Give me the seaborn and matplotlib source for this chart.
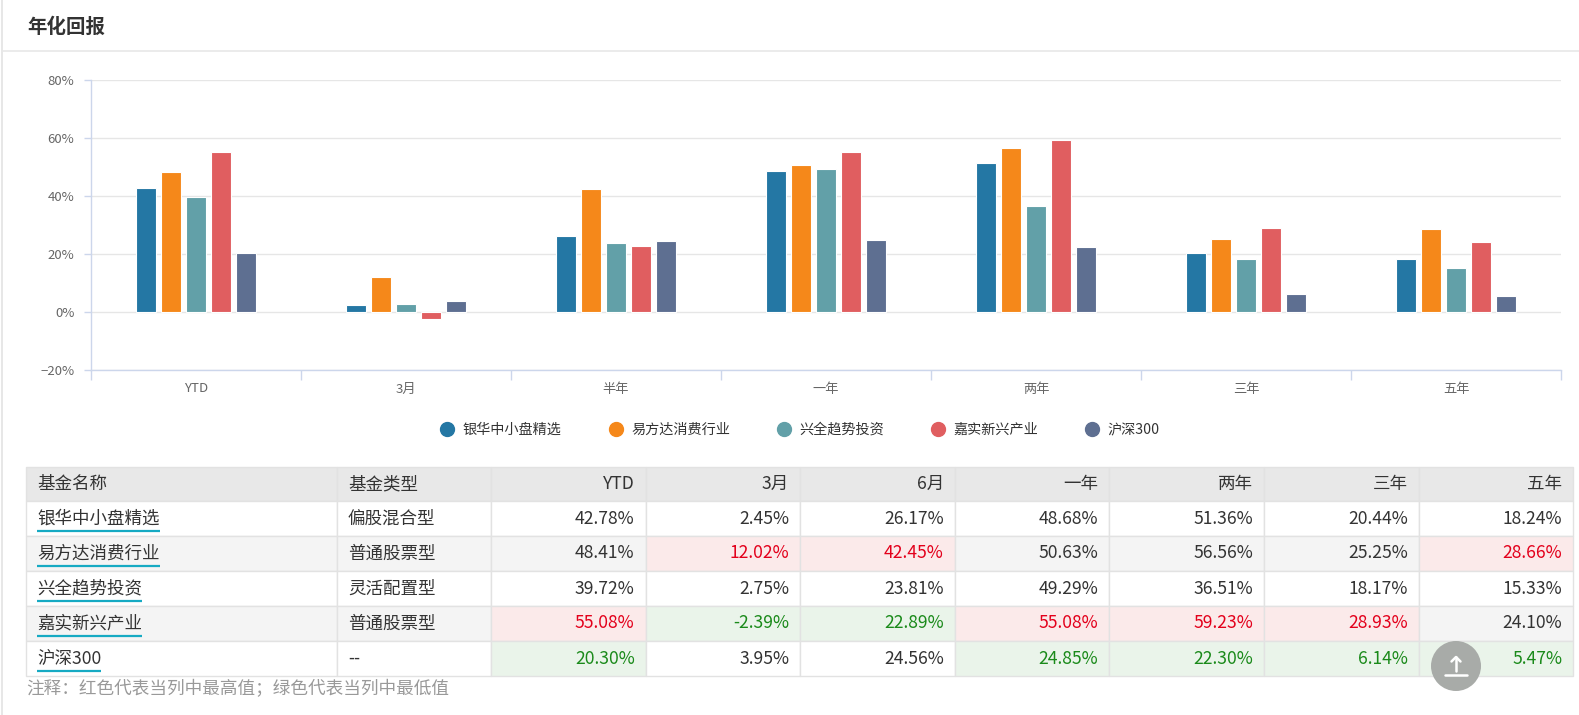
import numpy as np
import pandas as pd
import matplotlib
matplotlib.use('Agg')
import matplotlib.pyplot as plt
import seaborn as sns
from matplotlib.lines import Line2D
from matplotlib.patches import Rectangle, Circle
from matplotlib.ticker import FuncFormatter, FixedLocator

# data (chart and table share the same values)
periods = ['YTD', '3月', '半年', '一年', '两年', '三年', '五年']
table_headers = ['YTD', '3月', '6月', '一年', '两年', '三年', '五年']
funds = ['银华中小盘精选', '易方达消费行业', '兴全趋势投资', '嘉实新兴产业', '沪深300']
fund_types = ['偏股混合型', '普通股票型', '灵活配置型', '普通股票型', '--']

yinhua = [42.78, 2.45, 26.17, 48.68, 51.36, 20.44, 18.24]
efund = [48.41, 12.02, 42.45, 50.63, 56.56, 25.25, 28.66]
xingquan = [39.72, 2.75, 23.81, 49.29, 36.51, 18.17, 15.33]
jiashi = [55.08, -2.39, 22.89, 55.08, 59.23, 28.93, 24.10]
hs300 = [20.30, 3.95, 24.56, 24.85, 22.30, 6.14, 5.47]

colors = ['#2477a4', '#f5881a', '#62a0a8', '#e05e60', '#5e6f91']

series = [yinhua, efund, xingquan, jiashi, hs300]
df = pd.DataFrame([
    {'period': p, 'fund': f, 'value': v}
    for f, vals in zip(funds, series)
    for p, v in zip(periods, vals)
])

sns.set_theme(style='white')
plt.rcParams['font.family'] = ['Noto Sans CJK SC', 'DejaVu Sans']
plt.rcParams['axes.unicode_minus'] = False

W, H = 1579, 715
fig = plt.figure(figsize=(W / 100, H / 100), dpi=100)
fig.patch.set_facecolor('white')

# ---- bar chart
ax = fig.add_axes([91 / W, 1 - 370 / H, (1561 - 91) / W, (370 - 80) / H])
sns.barplot(data=df, x='period', y='value', hue='fund', order=periods, hue_order=funds,
            palette=colors, saturation=1, width=0.6, gap=0.2, edgecolor='white',
            linewidth=0.8, errorbar=None, legend=False, ax=ax)
ax.set_xlim(-0.5, len(periods) - 0.5)
ax.set_ylim(-20, 80)
ax.set_yticks(range(-20, 81, 20))
ax.yaxis.set_major_formatter(FuncFormatter(lambda v, p: f'{v:.0f}%'.replace('-', '\u2212')))
ax.grid(axis='y', color='#e6e6e6', linewidth=1)
ax.set_axisbelow(True)
ax.set_xlabel('')
ax.set_ylabel('')
for s in ['top', 'right']:
    ax.spines[s].set_visible(False)
for s in ['left', 'bottom']:
    ax.spines[s].set_color('#ccd6eb')
    ax.spines[s].set_linewidth(1)
ax.xaxis.set_minor_locator(FixedLocator(np.arange(-0.5, len(periods), 1)))
ax.tick_params(axis='x', which='minor', bottom=True, length=7.5, width=1, color='#ccd6eb')
ax.tick_params(axis='x', which='major', length=0, pad=9, labelsize=9.5, labelcolor='#666666')
ax.tick_params(axis='y', left=True, length=5, width=1, color='#ccd6eb', pad=7,
               labelsize=9.5, labelcolor='#666666')

# legend with round markers
handles = [Line2D([0], [0], marker='o', ls='', markersize=10,
                  markerfacecolor=c, markeredgecolor=c) for c in colors]
fig.legend(handles, funds, loc='center', bbox_to_anchor=(800 / W, 1 - 430 / H), ncol=5,
           frameon=False, fontsize=10.2, handlelength=1, handletextpad=0.6,
           columnspacing=3.3, labelcolor='#333333')

# ---- overlay in pixel coordinates for header, table and note
ov = fig.add_axes([0, 0, 1, 1])
ov.set_xlim(0, W)
ov.set_ylim(H, 0)
ov.axis('off')

ov.plot([1.5, 1.5], [0, H], color='#e3e3e3', lw=1.2)
ov.plot([2, W], [51, 51], color='#e8e8e8', lw=1.2)
ov.text(27, 27, '年化回报', fontsize=14, fontweight='bold', color='#333333',
        ha='left', va='center')

# table layout
left = 26
name_w, type_w, num_w = 311, 154, 154.6
top, head_h, row_h = 467, 34, 35
col_edges = [left, left + name_w, left + name_w + type_w]
for i in range(len(table_headers)):
    col_edges.append(col_edges[-1] + num_w)

grid_c = '#e2e2e2'
txt_c = '#333333'
red_bg, red_txt = '#fbeaea', '#e3001b'
green_bg, green_txt = '#eaf4ea', '#1a8a1a'
pad = 11
fs = 12.6

# header row
for j in range(len(col_edges) - 1):
    ov.add_patch(Rectangle((col_edges[j], top), col_edges[j + 1] - col_edges[j], head_h,
                           facecolor='#e8e8e8', edgecolor=grid_c, lw=1))
hy = top + head_h / 2
ov.text(col_edges[0] + pad, hy, '基金名称', fontsize=fs, color=txt_c, ha='left', va='center')
ov.text(col_edges[1] + pad, hy, '基金类型', fontsize=fs, color=txt_c, ha='left', va='center')
for j, h in enumerate(table_headers):
    ov.text(col_edges[j + 3] - pad, hy, h, fontsize=fs, color=txt_c, ha='right', va='center')

values = np.array(series)
col_max = values.max(axis=0)
col_min = values.min(axis=0)

renderer = fig.canvas.get_renderer()
for i, fund in enumerate(funds):
    y0 = top + head_h + i * row_h
    yc = y0 + row_h / 2
    base = '#ffffff' if i % 2 == 0 else '#f4f4f4'
    for j in range(len(col_edges) - 1):
        bg = base
        if j >= 2:
            v = values[i, j - 2]
            if v == col_max[j - 2]:
                bg = red_bg
            elif v == col_min[j - 2]:
                bg = green_bg
        ov.add_patch(Rectangle((col_edges[j], y0), col_edges[j + 1] - col_edges[j], row_h,
                               facecolor=bg, edgecolor=grid_c, lw=1))
    t = ov.text(col_edges[0] + pad, yc, fund, fontsize=fs, color=txt_c, ha='left', va='center')
    bb = t.get_window_extent(renderer)
    ov.plot([bb.x0, bb.x1], [yc + 12, yc + 12], color='#16aac3', lw=1.6,
            solid_capstyle='butt')
    ov.text(col_edges[1] + pad, yc, fund_types[i], fontsize=fs, color=txt_c,
            ha='left', va='center')
    for j in range(len(table_headers)):
        v = values[i, j]
        tc = txt_c
        if v == col_max[j]:
            tc = red_txt
        elif v == col_min[j]:
            tc = green_txt
        ov.text(col_edges[j + 3] - pad, yc, f'{v:.2f}%', fontsize=fs, color=tc,
                ha='right', va='center')

ov.text(26, 689, '注释：红色代表当列中最高值；绿色代表当列中最低值', fontsize=12.7,
        color='#999999', ha='left', va='center')

# scroll-to-top button from the page
ov.add_patch(Circle((1456, 666), 25, facecolor='#a8aba8', edgecolor='none'))
ov.plot([1456, 1456], [657, 671], color='white', lw=1.8)
ov.plot([1451.5, 1456, 1460.5], [661.5, 657, 661.5], color='white', lw=1.8)
ov.plot([1445, 1467], [675, 675], color='white', lw=1.8)

fig.savefig('out.png', dpi=100, facecolor='white')
